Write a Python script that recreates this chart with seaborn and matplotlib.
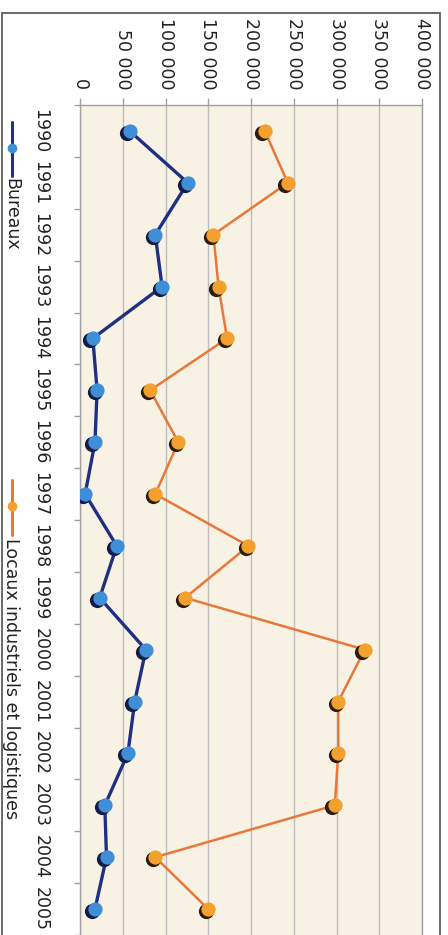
import matplotlib
matplotlib.use("Agg")
import matplotlib.pyplot as plt
import matplotlib.transforms as mtransforms
from matplotlib.lines import Line2D
from matplotlib.patches import Rectangle
import numpy as np
import pandas as pd
import seaborn as sns

# Surfaces mises en chantier par année (m²)
annees = list(range(1990, 2006))
bureaux = [58000, 126000, 88000, 96000, 15000, 20000, 17500, 6000,
           43000, 23000, 77000, 64000, 56000, 29000, 31000, 17500]
locaux = [216000, 243000, 156000, 162000, 172000, 82000, 115000, 88000,
          197000, 123000, 333000, 302000, 302000, 298000, 88000, 150000]
series = ["Bureaux", "Locaux industriels et logistiques"]
graduations = list(range(0, 400001, 50000))

couleur_ligne = {series[0]: "#1f2f82", series[1]: "#e8783a"}
couleur_point = {series[0]: "#3f8fd8", series[1]: "#f4a02e"}
couleur_ombre = {series[0]: "#141c45", series[1]: "#2b1d0e"}

df = pd.DataFrame({
    "annee": annees * 2,
    "valeur": bureaux + locaux,
    "serie": [series[0]] * len(annees) + [series[1]] * len(annees),
})

sns.set_theme(style="white")
plt.rcParams["font.family"] = ["DejaVu Sans"]
TAILLE = 12.5

fig = plt.figure(figsize=(4.48, 9.35), dpi=100)
ax = fig.add_axes([80 / 448, 0, 342 / 448, 830 / 935])
ax.set_facecolor("#f8f2e4")

# Lignes
sns.lineplot(data=df, x="valeur", y="annee", hue="serie", orient="y",
             palette=couleur_ligne, estimator=None, sort=False,
             legend=False, ax=ax, zorder=3)
for line, lw in zip(ax.lines, [2.4, 1.8]):
    line.set_linewidth(lw)

# Points avec ombre portée
ombre = mtransforms.offset_copy(ax.transData, fig=fig, x=-2.5, y=-2.0, units="dots")
for s in series:
    sub = df[df["serie"] == s]
    sns.scatterplot(data=sub, x="valeur", y="annee", color=couleur_ombre[s],
                    s=120, linewidth=0, legend=False, ax=ax, zorder=4,
                    transform=ombre)
    sns.scatterplot(data=sub, x="valeur", y="annee", color=couleur_point[s],
                    s=105, linewidth=0, legend=False, ax=ax, zorder=5)

# Axe des valeurs (en haut)
ax.set_xlim(0, 400000)
ax.set_xticks(graduations)
ax.set_xticklabels([f"{v:,}".replace(",", " ") for v in graduations],
                   rotation=-90, fontsize=TAILLE, color="#222222")
ax.xaxis.tick_top()
ax.tick_params(axis="x", top=True, bottom=False, length=5, width=1,
               color="#a0a0a0", pad=6)
ax.grid(axis="x", color="#bdbdbd", linewidth=1.0)
ax.grid(axis="y", visible=False)

# Axe des années (à gauche)
ax.set_ylim(2005.5, 1989.5)
ax.set_yticks(annees)
ax.set_yticklabels([str(a) for a in annees], rotation=-90,
                   fontsize=TAILLE, color="#222222", va="center")
ax.set_yticks([a - 0.5 for a in annees] + [2005.5], minor=True)
ax.tick_params(axis="y", which="major", length=0, pad=22)
ax.tick_params(axis="y", which="minor", left=True, length=4, width=1,
               color="#a0a0a0")
ax.set_xlabel("")
ax.set_ylabel("")

for side in ["top", "right", "left"]:
    ax.spines[side].set_color("#a0a0a0")
    ax.spines[side].set_linewidth(1.0)
ax.spines["bottom"].set_visible(False)

# Légende verticale
def entree(y0, y1, ym, serie, y_texte):
    fx = 12 / 448
    fig.add_artist(Line2D([fx, fx], [1 - y0 / 935, 1 - y1 / 935],
                          transform=fig.transFigure,
                          color=couleur_ligne[serie], linewidth=2.2))
    fig.add_artist(Line2D([fx], [1 - ym / 935], transform=fig.transFigure,
                          marker="o", markersize=6, linestyle="none",
                          markerfacecolor=couleur_point[serie],
                          markeredgecolor=couleur_point[serie]))
    fig.text(11 / 448, 1 - y_texte / 935, serie, rotation=-90,
             ha="center", va="top", fontsize=TAILLE, color="#222222")

entree(122, 176, 148, series[0], 178)
entree(480, 535, 506, series[1], 538)

# Cadre du graphique
fig.add_artist(Rectangle((2 / 448, -0.01), 438 / 448, 1 - 13 / 935 + 0.01,
                         transform=fig.transFigure, fill=False,
                         edgecolor="#5e5e5e", linewidth=1.3))

fig.savefig("out.png", dpi=100, facecolor="white")
